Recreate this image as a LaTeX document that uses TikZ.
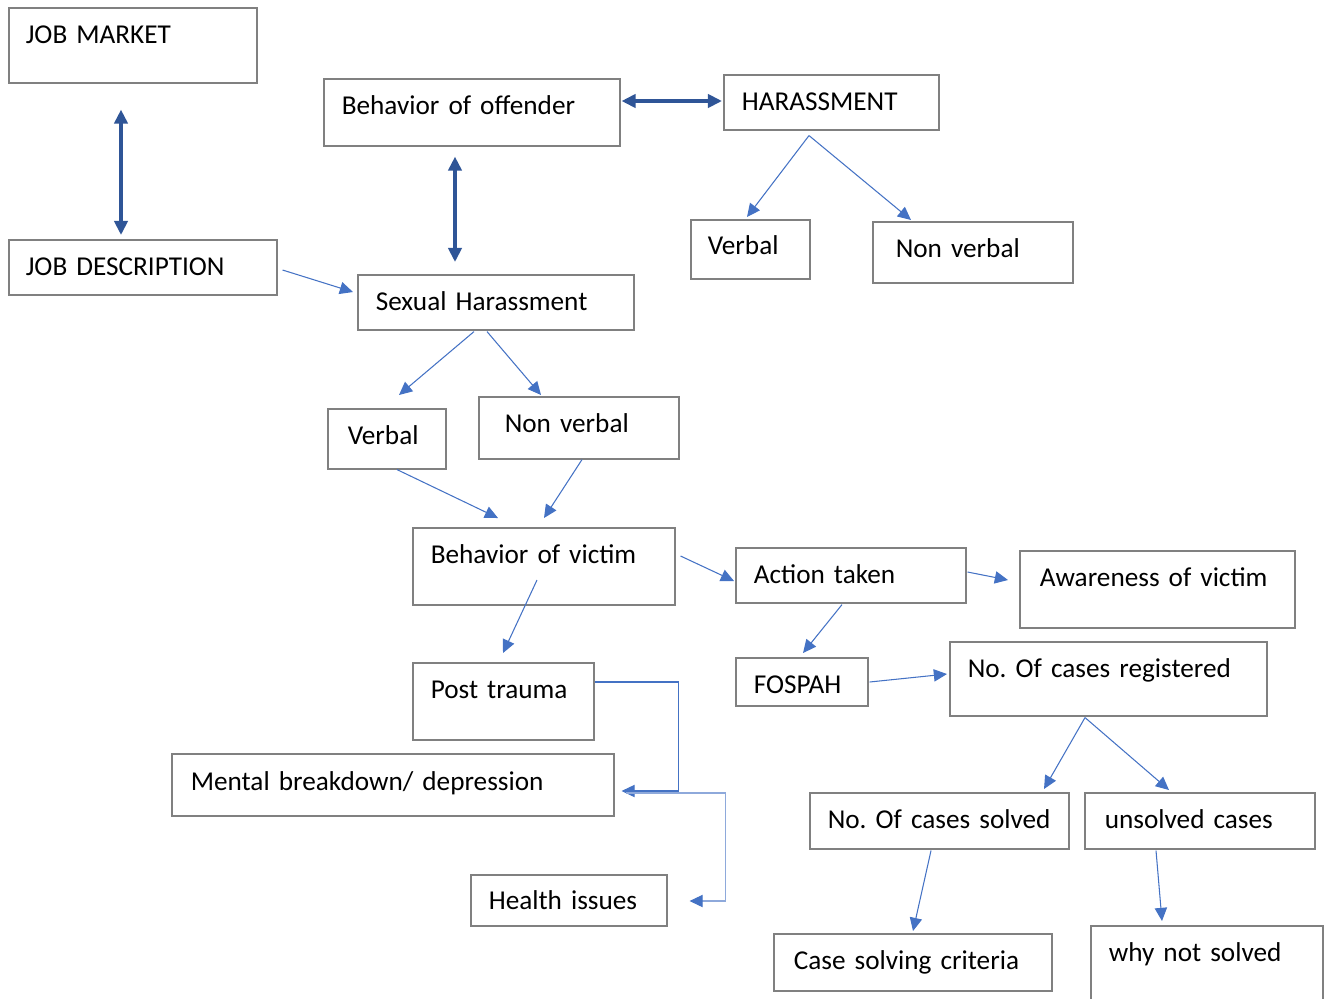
\documentclass[tikz,border=0pt]{standalone}
\usepackage{fontspec}
\setmainfont{Carlito}
\usepackage{tikz}
\usetikzlibrary{arrows.meta,calc}

\definecolor{boxgray}{RGB}{128,128,128}
\definecolor{darkblue}{RGB}{47,85,151}
\definecolor{linkblue}{RGB}{68,114,196}
\definecolor{paleblue}{RGB}{142,169,219}
\newcommand{\pxl}{0.569055pt}
\newcommand{\labelfont}{\frenchspacing\fontsize{15.5}{19}\selectfont}

\tikzset{
  box/.style n args={4}{draw=boxgray, line width=0.9pt, anchor=north west, align=left,
    inner ysep=0pt, inner xsep=#1*\pxl, text width=#2*\pxl,
    text height=#3*\pxl, text depth=#4*\pxl, font=\labelfont},
  link/.style={draw=linkblue, line width=0.6pt, -{Triangle[length=7.5pt,width=7pt]}},
  biglink/.style={draw=darkblue, line width=2pt,
    {Triangle[length=8pt,width=7.5pt]}-{Triangle[length=8pt,width=7.5pt]}}
}

\begin{document}
\begin{tikzpicture}[x=0.02cm, y=-0.02cm]
        \useasboundingbox (0,0) rectangle (1327,998);

        % left column and offender part
        \node[box={17}{214}{36}{39}] (jobmarket) at (8,7) {JOB MARKET};
        \node[box={17}{234}{36}{19}] (jobdesc) at (8,239) {JOB DESCRIPTION};
        \node[box={18}{260}{36}{31}] (offender) at (323,78) {Behavior of offender};
        \node[box={18}{179}{36}{19}] (harass) at (723,74) {HARASSMENT};
        \node[box={17}{85}{35}{24}] (hverbal) at (690,219) {Verbal};
        \node[box={23}{154}{36}{25}] (hnonverbal) at (872,221) {Non verbal};
        \node[box={18}{240}{36}{19}] (sexual) at (357,274) {Sexual Harassment};
        \node[box={20}{78}{36}{24}] (sverbal) at (327,408) {Verbal};
        \node[box={26}{148}{36}{26}] (snonverbal) at (478,396) {Non verbal};

        % victim part
        \node[box={18}{226}{36}{41}] (victim) at (412,527) {Behavior of victim};
        \node[box={18}{194}{36}{19}] (action) at (735,547) {Action taken};
        \node[box={20}{235}{36}{41}] (awareness) at (1019,550) {Awareness of victim};
        \node[box={18}{145}{36}{41}] (posttrauma) at (412,662) {Post trauma};
        \node[box={19}{404}{37}{25}] (mental) at (171,753) {Mental breakdown/ depression};
        \node[box={18}{160}{35}{16}] (health) at (470,874) {Health issues};

        % cases part
        \node[box={18}{96}{36}{12}] (fospah) at (735,657) {FOSPAH};
        \node[box={18}{281}{36}{38}] (registered) at (949,641) {No. Of cases registered};
        \node[box={18}{223}{36}{20}] (solved) at (809,792) {No. Of cases solved};
        \node[box={20}{190}{36}{20}] (unsolved) at (1084,792) {unsolved cases};
        \node[box={20}{238}{36}{21}] (criteria) at (773,933) {Case solving criteria};
        \node[box={18}{196}{36}{44}] (whynot) at (1090,925) {why not solved};

        % thick double arrows
        \draw[biglink] ($(jobmarket.south west)+(113,26)$) -- ($(jobdesc.north west)+(113,-4)$);
        \draw[biglink] ($(offender.south west)+(132,10)$) -- ($(sexual.north west)+(98,-12)$);
        \draw[biglink] ($(offender.north east)+(1,23)$) -- ($(harass.north west)+(-1,27)$);

        % thin arrows
        \draw[link] ($(harass.south west)+(86,5)$) -- ($(hverbal.north west)+(57,-2)$);
        \draw[link] ($(harass.south west)+(86,5)$) -- ($(hnonverbal.north west)+(39,-1)$);
        \draw[link] ($(jobdesc.north east)+(5,31)$) -- ($(sexual.north west)+(-4,18)$);
        \draw[link] ($(sexual.south west)+(117,1)$) -- ($(sverbal.north west)+(72,-13)$);
        \draw[link] ($(sexual.south west)+(130,1)$) -- ($(snonverbal.north west)+(63,-1)$);
        \draw[link] ($(sverbal.south west)+(70,0)$) -- ($(victim.north west)+(86,-9)$);
        \draw[link] ($(snonverbal.south west)+(104,0)$) -- ($(victim.north west)+(132,-9)$);
        \draw[link] ($(victim.north east)+(5,29)$) -- ($(action.north west)+(-1,34)$);
        \draw[link] ($(action.north east)+(1,25)$) -- ($(awareness.north west)+(-11,30)$);
        \draw[link] ($(action.south west)+(107,1)$) -- ($(fospah.north west)+(68,-4)$);
        \draw[link] ($(victim.north west)+(125,53)$) -- ($(posttrauma.north west)+(91,-9)$);
        \draw[link] ($(posttrauma.north east)+(0,20)$) -| ($(mental.north east)+(64,38)$)
            -- ($(mental.north east)+(7,38)$);
        \draw[link, draw=paleblue, -{Triangle[length=7.5pt,width=7pt,color=linkblue]}]
            ($(mental.north east)+(11,40)$) -| ($(health.north east)+(58,27)$)
            -- ($(health.north east)+(22,27)$);
        \draw[link] ($(fospah.north east)+(1,25)$) -- ($(registered.north west)+(-2,33)$);
        \draw[link] ($(registered.south west)+(136,1)$) -- ($(solved.north west)+(235,-3)$);
        \draw[link] ($(registered.south west)+(136,1)$) -- ($(unsolved.north west)+(85,-2)$);
        \draw[link] ($(solved.south west)+(122,1)$) -- ($(criteria.north west)+(140,-2)$);
        \draw[link] ($(unsolved.south west)+(72,1)$) -- ($(whynot.north west)+(72,-4)$);
    \end{tikzpicture}
\end{document}
